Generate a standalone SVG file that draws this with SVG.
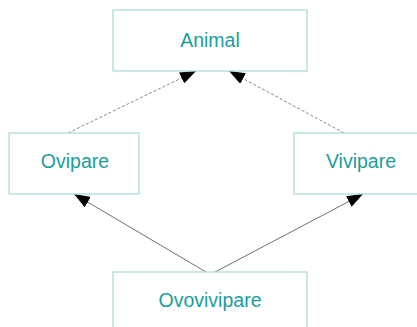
<svg xmlns="http://www.w3.org/2000/svg" width="417" height="327" viewBox="0 0 417 327">
<style>
.box{fill:#fff;stroke:#a6dada;stroke-width:1.2}
.lbl{font-family:"Liberation Sans",Arial,sans-serif;font-size:19.5px;fill:#1a9e9b;text-anchor:middle}
.dash{stroke:#8a8a8a;stroke-width:1;stroke-dasharray:3,2;fill:none}
.solid{stroke:#707070;stroke-width:1;fill:none}
</style>
<defs>
<marker id="ah" viewBox="0 0 16 12" refX="16" refY="6" markerWidth="16" markerHeight="12" markerUnits="userSpaceOnUse" orient="auto">
<path d="M0,0 L16,6 L0,12 z" fill="#000"/>
</marker>
</defs>
<rect width="417" height="327" fill="#fff"/>
<g id="connectors">
<line class="dash" x1="68" y1="133" x2="196" y2="71" marker-end="url(#ah)"/>
<line class="dash" x1="344" y1="133" x2="229" y2="71" marker-end="url(#ah)"/>
<line class="solid" x1="206" y1="272" x2="74" y2="194" marker-end="url(#ah)"/>
<line class="solid" x1="215" y1="272" x2="363" y2="194" marker-end="url(#ah)"/>
</g>
<g id="animal">
<rect class="box" x="113" y="10" width="194" height="61"/>
<text class="lbl" x="210" y="47">Animal</text>
</g>
<g id="ovipare">
<rect class="box" x="9" y="133" width="130" height="61"/>
<text class="lbl" x="75" y="168">Ovipare</text>
</g>
<g id="vivipare">
<rect class="box" x="294" y="133" width="134" height="61"/>
<text class="lbl" x="361" y="168">Vivipare</text>
</g>
<g id="ovovivipare">
<rect class="box" x="113" y="272" width="194" height="70"/>
<text class="lbl" x="210" y="307">Ovovivipare</text>
</g>
</svg>
